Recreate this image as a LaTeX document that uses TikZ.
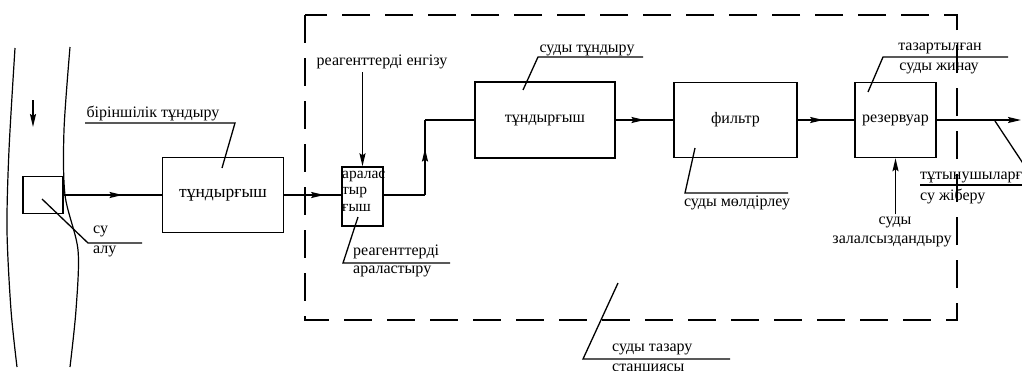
\documentclass[tikz,border=0pt]{standalone}
\usepackage{fontspec}
\setmainfont{Liberation Serif}
\usetikzlibrary{arrows.meta,decorations.markings}
\tikzset{
  box/.style={draw, line width=1.4pt, inner sep=0pt},
  flow/.style={line width=1.7pt},
  lead/.style={line width=1.3pt},
  lbl/.style={font=\fontsize{16}{19}\selectfont, inner sep=0pt},
  tipa/.style={-{Stealth[length=13pt,width=6pt,inset=2pt]}},
  midarrow/.style={postaction={decorate}, decoration={markings,
     mark=at position #1 with {\arrow{Stealth[length=13pt,width=6pt,inset=2pt]}}}},
}
\begin{document}
\begin{tikzpicture}[x=1pt,y=-1pt]
\useasboundingbox (0,0) rectangle (1022,370);
\clip (0,0) rectangle (1022,370);

% river
\draw[line width=1.2pt] plot[smooth] coordinates {(15,48) (9,150) (7,230) (11,310) (17,367)};
\draw[line width=1.2pt] plot[smooth] coordinates {(70,47) (64,130) (65,195) (78,250) (76,310) (70,367)};
\coordinate (rv1) at (33,100);
\coordinate (rv2) at (33,127);
\draw[flow,tipa] (rv1) -- (rv2);

% station border
\draw[line width=2.6pt, dash pattern=on 28pt off 15pt] (305,15) rectangle (957,320);

% boxes
\node[box, minimum width=40pt, minimum height=37pt] (intake) at (43,195) {};
\node[box, minimum width=121pt, minimum height=75pt, lbl, font=\fontsize{17.5}{19}\selectfont] (set1) at (223,195) {тұндырғыш};
\node[box, minimum width=41pt, minimum height=59pt] (mixer) at (362.5,196.5) {};
\node[lbl, anchor=north west, align=left, font=\fontsize{15.5}{16.5}\selectfont] (mixt) at (342,170.5) {аралас\\тыр\\ғыш};
\node[box, minimum width=140pt, minimum height=76pt, lbl] (set2) at (545,120) {тұндырғыш};
\node[box, minimum width=123pt, minimum height=75pt, lbl] (filt) at (735.5,120) {фильтр};
\node[box, minimum width=81pt, minimum height=75pt, lbl] (res) at (895.5,120) {резервуар};

% flow connectors
\draw[flow, midarrow=0.6] (intake.east) -- (set1.west);
\draw[flow, midarrow=0.7] (set1.east) -- (set1.east -| mixer.west);
\coordinate (b1) at (425,195);
\coordinate (b2) at (425,120);
\draw[flow] (mixer.east |- b1) -- (b1);
\draw[flow, midarrow=0.62] (b1) -- (b2);
\draw[flow] (b2) -- (set2.west);
\draw[flow, midarrow=0.5] (set2.east) -- (filt.west);
\draw[flow, midarrow=0.45] (filt.east) -- (res.west);
\coordinate (out) at (1021,120);
\draw[flow, tipa] (res.east) -- (out);

% reagent input
\node[lbl] (reag) at (382,62) {реагенттерді енгізу};
\draw[flow, tipa] (mixer.north |- reag.south) ++(0,3) -- (mixer.north);

% disinfection
\node[lbl] (dis1) at (895,222) {суды};
\node[lbl] (dis2) at (892,241) {залалсыздандыру};
\draw[flow, tipa] (res.south |- dis1.north) ++(0,-2) -- (res.south);

% labels with leaders
\node[lbl] (l1) at (153,113) {біріншілік тұндыру};
\coordinate (l1a) at (85,123); \coordinate (l1b) at (235,123); \coordinate (l1c) at (222,168);
\draw[lead] (l1a) -- (l1b) -- (l1c);

\node[lbl, anchor=west] (su1) at (93,231) {су};
\node[lbl, anchor=west] (su2) at (93,251) {алу};
\coordinate (s1a) at (42,199); \coordinate (s1b) at (88,243); \coordinate (s1c) at (142,243);
\draw[lead] (s1a) -- (s1b) -- (s1c);

\node[lbl, anchor=west] (ra1) at (353,252) {реагенттерді};
\node[lbl, anchor=west] (ra2) at (353,271) {араластыру};
\coordinate (r1a) at (358,217); \coordinate (r1b) at (343,263); \coordinate (r1c) at (450,263);
\draw[lead] (r1a) -- (r1b) -- (r1c);

\node[lbl] (st) at (587,50) {суды тұндыру};
\coordinate (s2a) at (523,90); \coordinate (s2b) at (538,57); \coordinate (s2c) at (643,57);
\draw[lead] (s2a) -- (s2b) -- (s2c);

\node[lbl] (ml) at (737,203) {суды мөлдірлеу};
\coordinate (m1a) at (695,148); \coordinate (m1b) at (685,193); \coordinate (m1c) at (788,193);
\draw[lead] (m1a) -- (m1b) -- (m1c);

\node[lbl] (tz1) at (940,48) {тазартылған};
\node[lbl] (tz2) at (939,68) {суды жинау};
\coordinate (t1a) at (868,92); \coordinate (t1b) at (883,57); \coordinate (t1c) at (1008,57);
\draw[lead] (t1a) -- (t1b) -- (t1c);

\node[lbl, anchor=west] (tt1) at (920,177) {тұтынушыларға};
\node[lbl, anchor=west] (tt2) at (920,196) {су жіберу};
\coordinate (o1a) at (995,121); \coordinate (o1b) at (1034,180); \coordinate (o1c) at (920,185);
\draw[lead] (o1a) -- (o1b);
\draw[lead] (o1c) -- (1030,185);

\node[lbl, anchor=west] (bt1) at (612,349) {суды тазару};
\node[lbl, anchor=west] (bt2) at (612,369) {станциясы};
\coordinate (b3a) at (618,283); \coordinate (b3b) at (583,359); \coordinate (b3c) at (730,359);
\draw[lead] (b3a) -- (b3b) -- (b3c);
\end{tikzpicture}
\end{document}
